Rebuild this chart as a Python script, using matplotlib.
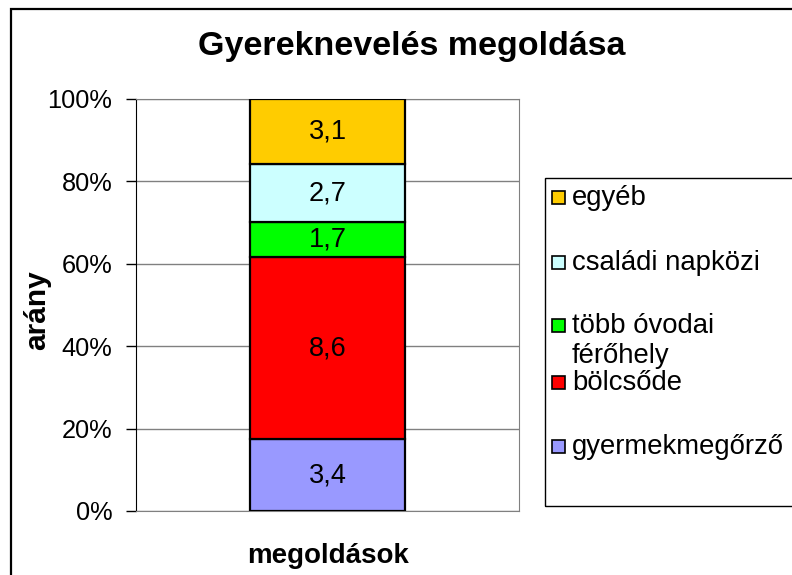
import matplotlib.pyplot as plt
from matplotlib.patches import Rectangle

# adatok (alulról felfelé)
categories = ['gyermekmegőrző', 'bölcsőde', 'több óvodai\nférőhely', 'családi napközi', 'egyéb']
values = [3.4, 8.6, 1.7, 2.7, 3.1]
colors = ['#9999FF', '#FF0000', '#00FF00', '#CCFFFF', '#FFCC00']
yticks = [0, 20, 40, 60, 80, 100]

plt.rcParams['font.family'] = ['Liberation Sans', 'DejaVu Sans']

W, H = 792, 575
fig = plt.figure(figsize=(W / 100, H / 100), dpi=100)


def fx(px):
    return px / W


def fy(py):
    return 1 - py / H


ax = fig.add_axes([fx(136), fy(511), fx(519) - fx(136), fy(99) - fy(511)])

total = sum(values)
bottom = 0
for val, color in zip(values, colors):
    share = val / total * 100
    ax.bar(0, share, width=1, bottom=bottom, color=color,
           edgecolor='black', linewidth=1.6, zorder=3)
    ax.text(0, bottom + share / 2, f'{val:.1f}'.replace('.', ','),
            ha='center', va='center', fontsize=19.5, zorder=4)
    bottom += share

ax.set_xlim(-1.235, 1.235)
ax.set_ylim(0, 100)
ax.set_yticks(yticks)
ax.set_yticklabels([f'{t}%' for t in yticks], fontsize=18.3)
ax.set_xticks([])
ax.yaxis.grid(True, color='#808080', linewidth=1)
ax.set_axisbelow(True)
for side in ['top', 'right', 'bottom']:
    ax.spines[side].set_color('#808080')
ax.spines['left'].set_color('black')
ax.tick_params(axis='y', length=7, width=1, pad=10)

# címek
fig.text(fx(412), fy(47), 'Gyereknevelés megoldása', ha='center', va='center',
         fontsize=24.5, fontweight='bold')
fig.text(fx(37), fy(310), 'arány', rotation=90, ha='center', va='center',
         fontsize=21.5, fontweight='bold')
fig.text(fx(328), fy(556), 'megoldások', ha='center', va='center',
         fontsize=20, fontweight='bold')

# jelmagyarázat (fordított sorrendben)
fig.add_artist(Rectangle((fx(545), fy(506)), fx(820) - fx(545), fy(178) - fy(506),
                         transform=fig.transFigure, fill=False,
                         edgecolor='black', linewidth=1))
legend_y = [446, 382, 325, 262, 197]
for label, color, ly in zip(categories, colors, legend_y):
    fig.add_artist(Rectangle((fx(552), fy(ly + 6.5)), fx(13), 13 / H,
                             transform=fig.transFigure, facecolor=color,
                             edgecolor='black', linewidth=1.2))
    fig.text(fx(572), fy(ly - 12), label, ha='left', va='top',
             fontsize=19.8, linespacing=1.18)

# külső keret
fig.add_artist(Rectangle((fx(11), fy(600)), fx(820) - fx(11), fy(9) - fy(600),
                         transform=fig.transFigure, fill=False,
                         edgecolor='black', linewidth=1.6))

fig.savefig('out.png', dpi=100)
